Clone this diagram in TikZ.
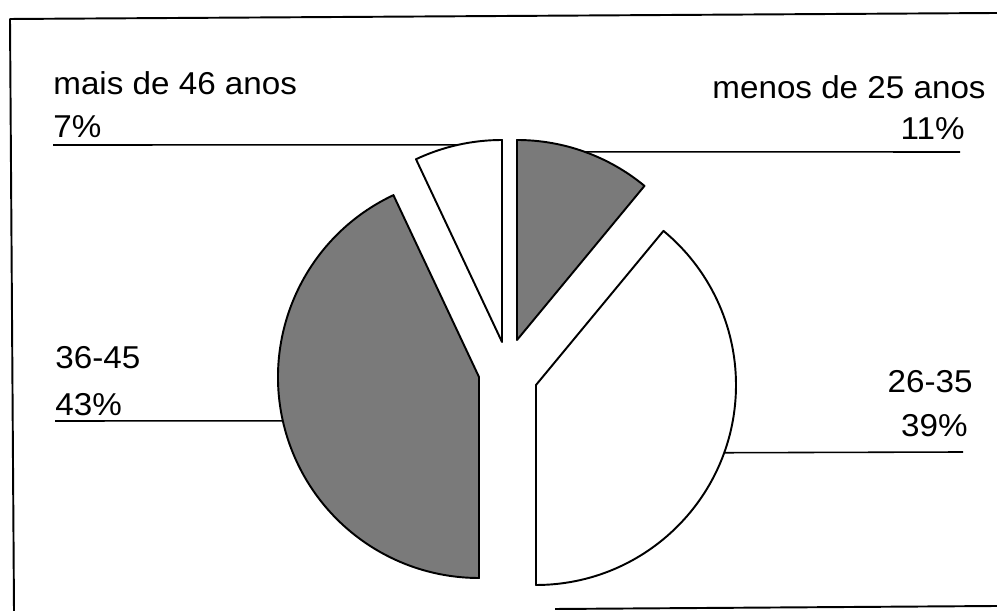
\documentclass[tikz,border=0pt]{standalone}
\usepackage{fontspec}
\setmainfont{Liberation Sans}[FakeStretch=1.05]
\usetikzlibrary{calc,positioning}

\begin{document}
\begin{tikzpicture}[x=0.02cm, y=0.02cm, line join=round]
		\tikzstyle{slice} = [draw, line width=1.1pt]
		\tikzstyle{dark} = [fill=black!52]
		\tikzstyle{light} = [fill=white]
		\tikzstyle{lbl} = [inner sep=0pt, font=\fontsize{18}{20}\selectfont]
		\tikzstyle{leader} = [line width=0.9pt]
		\useasboundingbox (0,0) rectangle (997,611);
		% frame
		\draw[line width=1.1pt] (14,0) -- (10,592) -- (997,598);
		\draw[line width=1.1pt] (555,2) -- (997,5);
		% slice centres
		\coordinate (c7) at (502,269);
		\coordinate (c11) at (517,271);
		\coordinate (c26) at (536,226);
		\coordinate (c36) at (479,234);
		\draw[slice, light] (c7) -- ++(90:202)
			arc[start angle=90, end angle=115.2, radius=202] -- cycle;
		\draw[slice, dark] (c11) -- ++(50.4:200)
			arc[start angle=50.4, end angle=90, radius=200] -- cycle;
		\draw[slice, light] (c26) -- ++(-90:200)
			arc[start angle=-90, end angle=50.4, radius=200] -- cycle;
		\draw[slice, dark] (c36) -- ++(115.2:201)
			arc[start angle=115.2, end angle=270, radius=201] -- cycle;
		% arc midpoints
		\coordinate (m7) at ($(c7)+(102.6:202)$);
		\coordinate (m11) at ($(c11)+(70.2:200)$);
		\coordinate (m26) at ($(c26)+(-19.8:200)$);
		\coordinate (m36) at ($(c36)+(192.6:201)$);
		% labels
		\node[lbl, anchor=base west] (t7a) at (53,516) {mais de 46 anos};
		\node[lbl, anchor=base west] (t7b) at (53,473) {7\%};
		\node[lbl, anchor=base east] (t11a) at (986,512) {menos de 25 anos};
		\node[lbl, anchor=base east] (t11b) at (965,471) {11\%};
		\node[lbl, anchor=base west] (t36a) at (55,242) {36-45};
		\node[lbl, anchor=base west] (t36b) at (55,195) {43\%};
		\node[lbl, anchor=base east] (t26a) at (973,218) {26-35};
		\node[lbl, anchor=base east] (t26b) at (968,174) {39\%};
		\coordinate (e7) at (53,466);
		\coordinate (e11) at (960,459);
		\coordinate (e26) at (963,159);
		\coordinate (e36) at (55,190);
		\draw[leader] (m7) -- (e7);
		\draw[leader] (m11) -- (e11);
		\draw[leader] (m26) -- (e26);
		\draw[leader] (m36) -- (e36);
\end{tikzpicture}
\end{document}
